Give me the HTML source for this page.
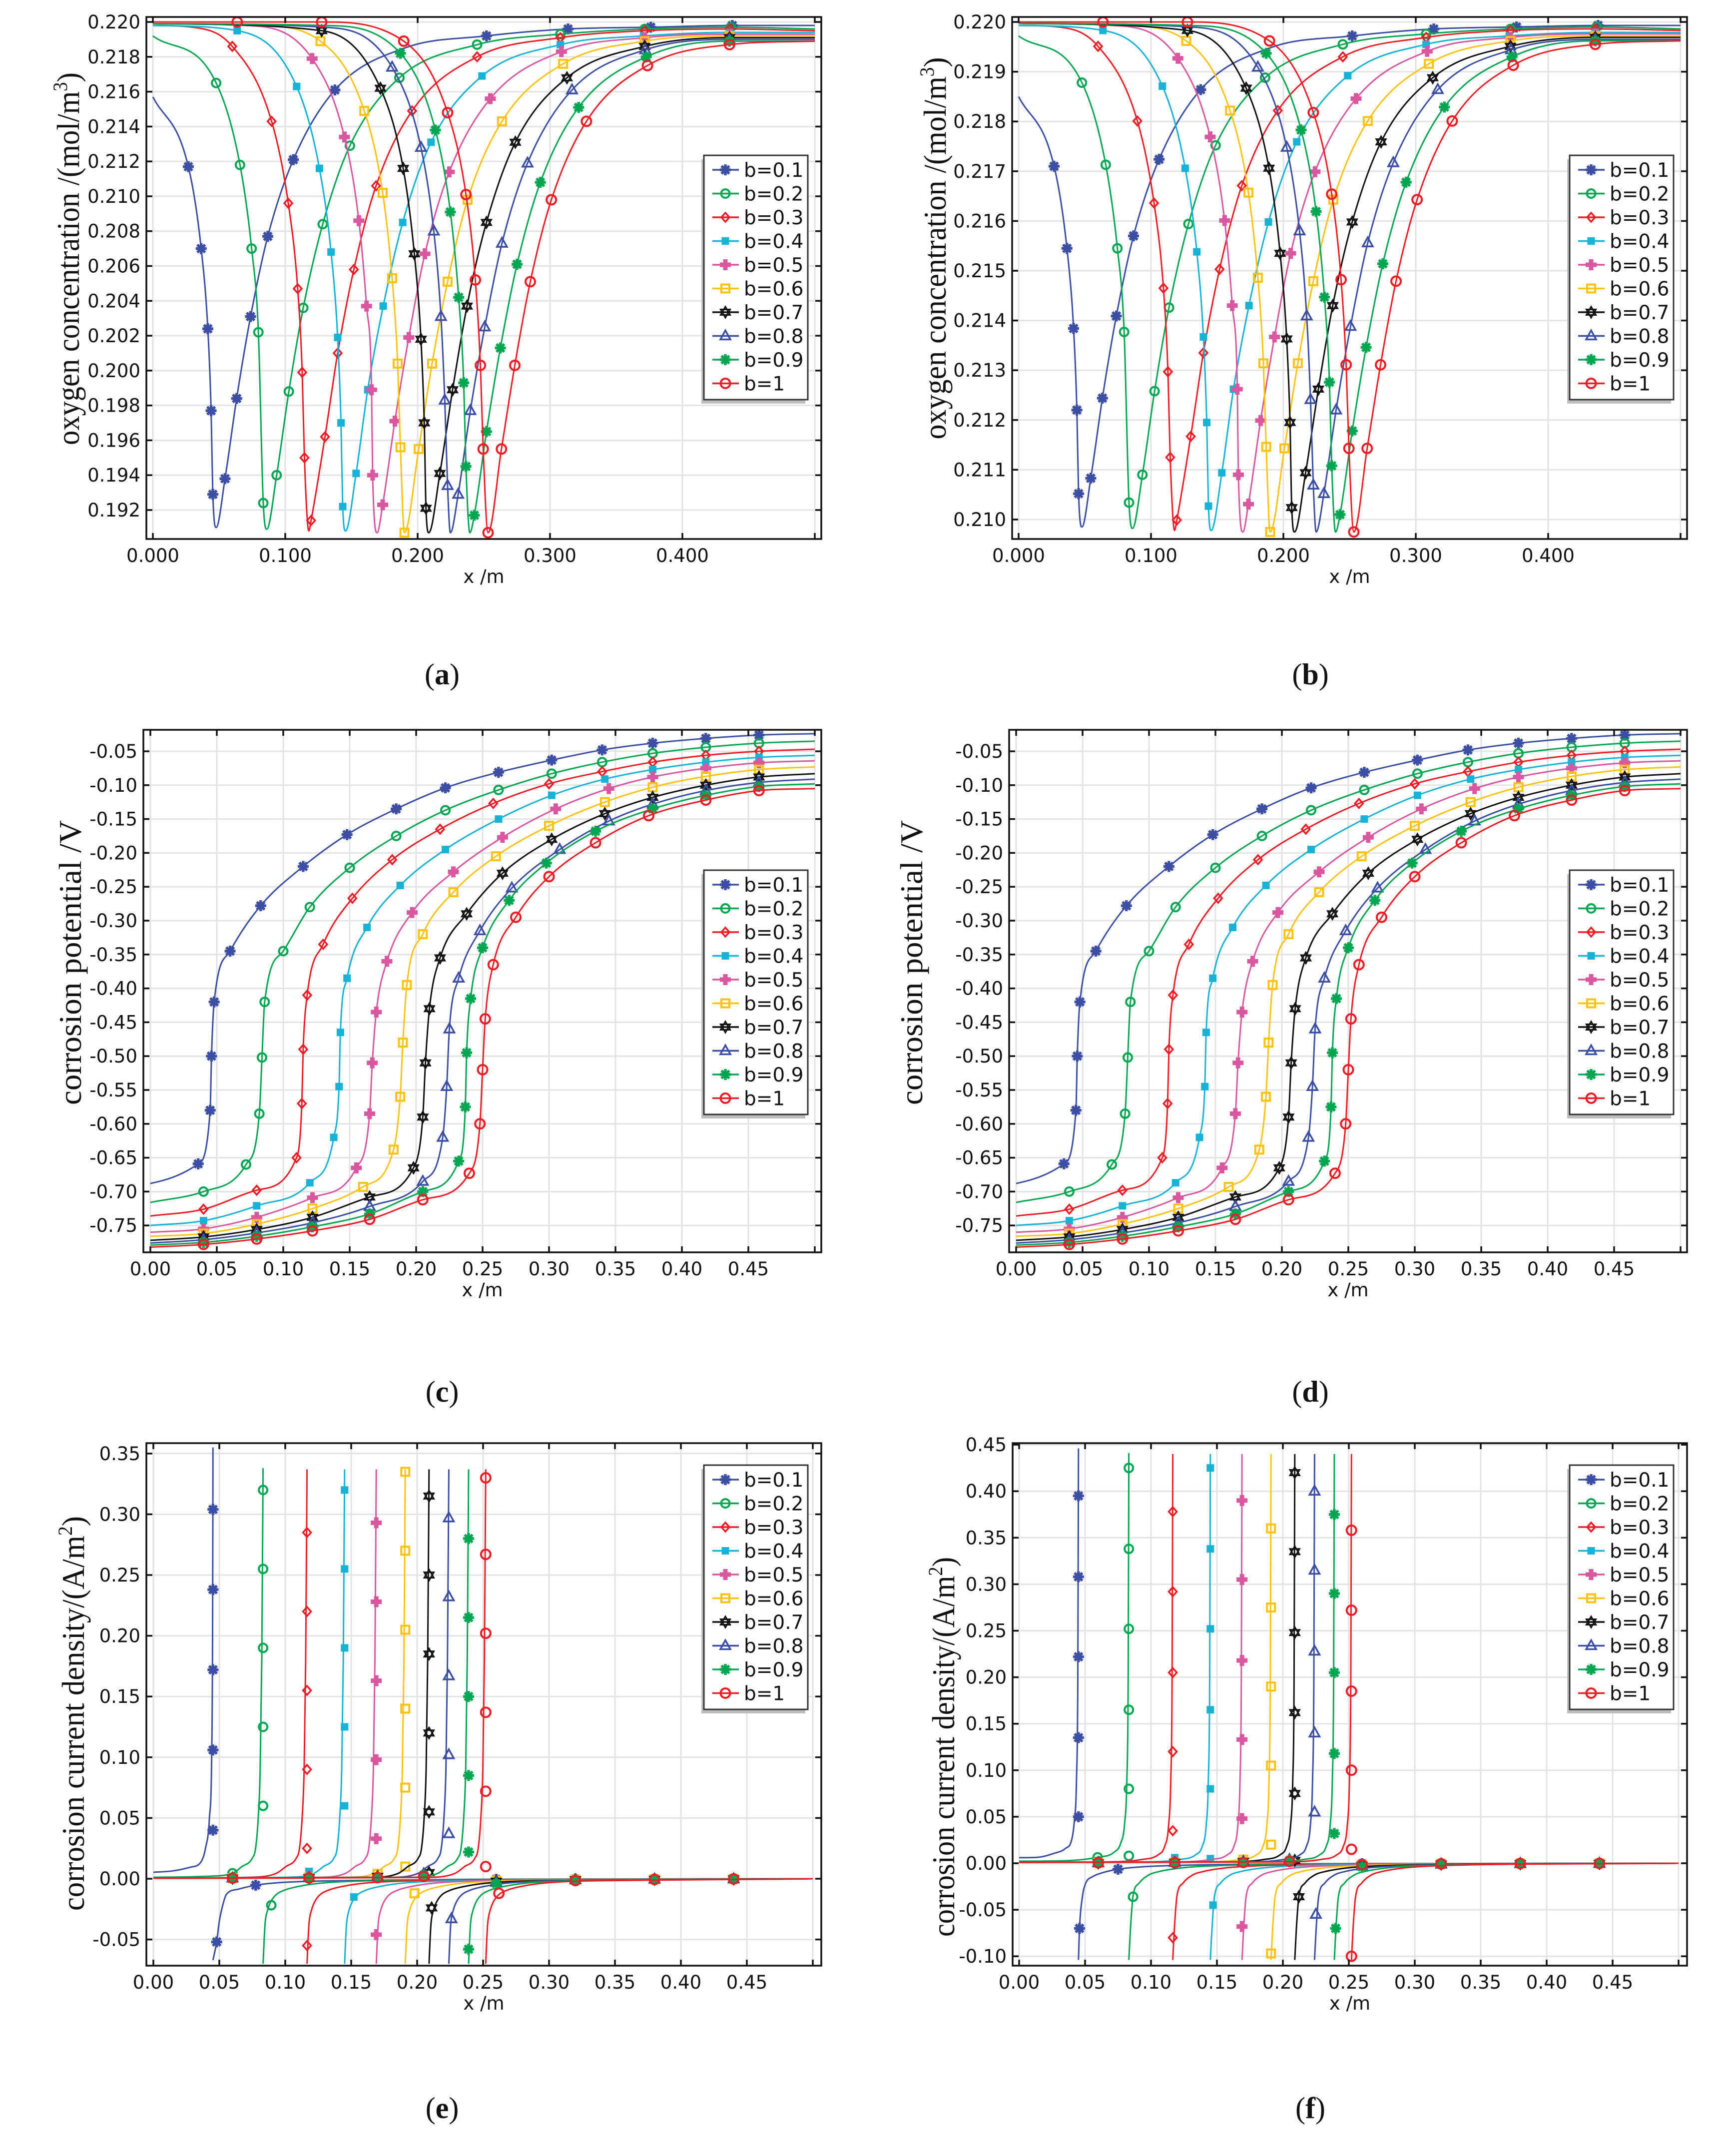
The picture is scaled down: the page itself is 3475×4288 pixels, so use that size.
<!DOCTYPE html>
<html><head><meta charset="utf-8"><title>Oxygen concentration, corrosion potential and current density figure</title>
<style>html,body{margin:0;padding:0;background:#fff}svg{display:block}</style></head>
<body>
<svg id="fig" width="3475" height="4288" viewBox="0 0 3475 4288" xmlns="http://www.w3.org/2000/svg">
<rect x="0" y="0" width="3475" height="4288" fill="#fff"/>
</svg>
<script>
// ---------- series meta ----------
const seriesLabels = ['b=0.1','b=0.2','b=0.3','b=0.4','b=0.5','b=0.6','b=0.7','b=0.8','b=0.9','b=1'];
const seriesColors = ['#3b4ea3','#00a651','#ee1c25','#16b3d6','#d9579e','#ffc20e','#111111','#3b4ea3','#00a651','#ee1c25'];
const markerTypes = ['ast','circ','diam','sqf','plus','sqo','star6','tri','ast','circ2'];

// ---------- panel (a)/(b): oxygen concentration ----------
const oxX = [
 [0,.0268,.0365,.0415,.0440,.0453,.0478,.0545,.0633,.0738,.0868,.1061,.1375,.19,.252,.3136,.3761,.4377,.5],
 [0,.0478,.0658,.0746,.0797,.0834,.0860,.0935,.1027,.1136,.1283,.1488,.1862,.2449,.3078,.3715,.4365,.5],
 [0,.03,.06,.0897,.1023,.1094,.1128,.1145,.1178,.1195,.13,.1396,.1518,.1686,.1958,.2449,.3078,.3715,.4356,.5],
 [0,.0637,.1086,.1258,.1346,.1396,.1421,.1434,.1455,.1535,.1623,.174,.1887,.2101,.2486,.3078,.3706,.4356,.5],
 [0,.07,.1203,.1447,.1556,.1614,.1652,.166,.1694,.1736,.1828,.1933,.2055,.2239,.2549,.3086,.3715,.4356,.5],
 [0,.08,.1266,.1597,.1736,.1807,.1849,.187,.19,.2008,.2109,.2226,.2377,.2637,.3099,.3715,.4356,.5],
 [0,.1275,.1719,.1891,.1975,.2025,.205,.2063,.2084,.2168,.2264,.2373,.252,.2738,.3128,.3715,.4356,.5],
 [0,.13,.1807,.2025,.2122,.2176,.2205,.2226,.2247,.2306,.2398,.2507,.2637,.283,.3166,.3719,.4356,.5],
 [0,.13,.187,.2134,.2247,.231,.2348,.2365,.2394,.2428,.252,.2625,.2751,.2927,.3216,.3727,.4356,.5],
 [0,.0637,.1275,.1895,.2226,.2365,.2436,.2474,.2495,.2532,.2633,.2734,.2851,.301,.3275,.3736,.4356,.5]
];
const oxA_Y = [
 [.2157,.2117,.2070,.2024,.1977,.1929,.1910,.1938,.1984,.2031,.2077,.2121,.2161,.2185,.2192,.2196,.2197,.2198,.2198],
 [.2192,.2165,.2118,.2070,.2022,.1924,.1909,.1940,.1988,.2036,.2084,.2129,.2168,.2187,.2193,.2196,.2197,.2196],
 [.2198,.2197,.2186,.2143,.2096,.2047,.1999,.1950,.1908,.1914,.1962,.2010,.2058,.2106,.2149,.2180,.2191,.2195,.2196,.2195],
 [.2198,.2195,.2163,.2116,.2068,.2019,.1970,.1922,.1908,.1941,.1989,.2037,.2085,.2131,.2169,.2187,.2192,.2194,.2194],
 [.2199,.2198,.2179,.2134,.2086,.2037,.1989,.1940,.1907,.1923,.1971,.2019,.2067,.2114,.2156,.2183,.2191,.2193,.2193],
 [.2199,.2198,.2189,.2149,.2102,.2053,.2004,.1956,.1907,.1955,.2004,.2051,.2098,.2143,.2176,.2189,.2192,.2192],
 [.2199,.2195,.2162,.2116,.2067,.2018,.1970,.1921,.1907,.1941,.1989,.2037,.2085,.2131,.2168,.2186,.2191,.2191],
 [.2199,.2197,.2174,.2128,.2080,.2031,.1983,.1934,.1907,.1929,.1977,.2025,.2073,.2119,.2161,.2184,.2190,.2190],
 [.2199,.2198,.2182,.2138,.2091,.2042,.1993,.1945,.1907,.1917,.1965,.2013,.2061,.2108,.2151,.2180,.2189,.2189],
 [.2200,.2200,.2200,.2189,.2148,.2101,.2052,.2003,.1955,.1907,.1955,.2003,.2051,.2098,.2143,.2175,.2187,.2189]
];
const oxB_Y = [
 [.21850,.21710,.21545,.21384,.21220,.21052,.20985,.21083,.21244,.21409,.21570,.21724,.21864,.21948,.21972,.21986,.21990,.21993,.21993],
 [.21972,.21878,.21713,.21545,.21377,.21034,.20982,.21090,.21258,.21426,.21594,.21752,.21888,.21955,.21976,.21986,.21990,.21986],
 [.21993,.21990,.21951,.21801,.21636,.21465,.21297,.21125,.20978,.20999,.21167,.21335,.21503,.21671,.21822,.21930,.21969,.21983,.21986,.21983],
 [.21993,.21983,.21871,.21706,.21538,.21367,.21195,.21027,.20978,.21094,.21262,.21430,.21598,.21759,.21892,.21955,.21972,.21979,.21979],
 [.21997,.21993,.21927,.21769,.21601,.21430,.21262,.21090,.20975,.21031,.21199,.21367,.21535,.21699,.21846,.21941,.21969,.21976,.21976],
 [.21997,.21993,.21962,.21822,.21657,.21486,.21314,.21146,.20975,.21143,.21314,.21479,.21643,.21801,.21916,.21962,.21972,.21972],
 [.21997,.21983,.21867,.21706,.21535,.21363,.21195,.21024,.20975,.21094,.21262,.21430,.21598,.21759,.21888,.21951,.21969,.21969],
 [.21997,.21990,.21909,.21748,.21580,.21409,.21241,.21069,.20975,.21052,.21220,.21388,.21556,.21717,.21864,.21944,.21965,.21965],
 [.21997,.21993,.21937,.21783,.21619,.21447,.21276,.21108,.20975,.21010,.21178,.21346,.21514,.21678,.21829,.21930,.21962,.21962],
 [.2200,.2200,.2200,.21962,.21818,.21654,.21482,.21311,.21143,.20975,.21143,.21311,.21479,.21643,.21801,.21913,.21955,.21962]
];
const oxMk = [
 [1,2,3,4,5,7,8,9,10,11,12,14,15,16,17],
 [1,2,3,4,5,7,8,9,10,11,12,13,14,15,16],
 [2,3,4,5,6,7,9,10,11,12,13,14,15,16,17,18],
 [1,2,3,4,5,6,7,9,10,11,12,13,14,15,16,17],
 [2,3,4,5,6,7,9,10,11,12,13,14,15,16,17],
 [2,3,4,5,6,7,8,9,10,11,12,13,14,15,16],
 [1,2,3,4,5,6,7,9,10,11,12,13,14,15,16],
 [2,3,4,5,6,7,9,10,11,12,13,14,15,16],
 [2,3,4,5,6,7,9,10,11,12,13,14,15,16],
 [1,2,3,4,5,6,7,8,9,10,11,12,13,14,15,16]
];
const oxXticks = [0,0.1,0.2,0.3,0.4,0.5];
const oxA_Yticks = [0.192,0.194,0.196,0.198,0.200,0.202,0.204,0.206,0.208,0.210,0.212,0.214,0.216,0.218,0.220];
const oxB_Yticks = [0.210,0.211,0.212,0.213,0.214,0.215,0.216,0.217,0.218,0.219,0.220];

// ---------- panel (c)/(d): corrosion potential ----------
const potX = [
 [0,.036,.045,.046,.048,.060,.083,.115,.148,.185,.222,.262,.302,.340,.378,.418,.458,.5],
 [0,.04,.072,.082,.084,.086,.100,.120,.150,.185,.222,.262,.302,.340,.378,.418,.458,.5],
 [0,.04,.08,.110,.114,.115,.118,.130,.152,.182,.218,.258,.300,.340,.378,.418,.458,.5],
 [0,.04,.08,.12,.138,.142,.143,.148,.163,.188,.222,.262,.302,.342,.378,.418,.458,.5],
 [0,.04,.08,.122,.155,.165,.167,.170,.178,.197,.228,.265,.305,.345,.378,.418,.458,.5],
 [0,.04,.08,.122,.160,.183,.188,.190,.193,.205,.228,.260,.300,.342,.378,.418,.458,.5],
 [0,.04,.08,.122,.165,.198,.205,.207,.210,.218,.238,.265,.302,.342,.378,.418,.458,.5],
 [0,.04,.08,.122,.165,.205,.220,.223,.225,.232,.248,.272,.308,.345,.378,.418,.458,.5],
 [0,.04,.08,.122,.165,.205,.232,.237,.238,.241,.250,.270,.298,.335,.378,.418,.458,.5],
 [0,.04,.08,.122,.165,.205,.240,.248,.250,.252,.258,.275,.300,.335,.375,.418,.458,.5]
];
const potC_Y = [
 [-.688,-.659,-.58,-.50,-.42,-.345,-.278,-.22,-.173,-.135,-.104,-.081,-.063,-.048,-.038,-.031,-.026,-.024],
 [-.716,-.70,-.66,-.585,-.502,-.42,-.345,-.28,-.222,-.175,-.137,-.107,-.083,-.066,-.053,-.044,-.038,-.035],
 [-.736,-.726,-.698,-.65,-.57,-.49,-.41,-.335,-.267,-.21,-.165,-.127,-.098,-.080,-.066,-.056,-.050,-.047],
 [-.750,-.743,-.721,-.687,-.62,-.545,-.465,-.385,-.31,-.248,-.195,-.150,-.115,-.091,-.077,-.066,-.059,-.056],
 [-.760,-.755,-.738,-.709,-.665,-.585,-.51,-.435,-.36,-.288,-.228,-.177,-.135,-.105,-.088,-.075,-.067,-.064],
 [-.766,-.762,-.748,-.725,-.693,-.638,-.56,-.48,-.395,-.32,-.258,-.205,-.16,-.125,-.103,-.087,-.077,-.073],
 [-.772,-.767,-.756,-.738,-.708,-.665,-.59,-.51,-.43,-.355,-.29,-.23,-.18,-.142,-.118,-.100,-.088,-.083],
 [-.776,-.771,-.761,-.746,-.722,-.685,-.62,-.545,-.46,-.385,-.315,-.252,-.195,-.153,-.128,-.108,-.096,-.091],
 [-.779,-.775,-.766,-.752,-.733,-.70,-.655,-.575,-.495,-.415,-.34,-.27,-.215,-.168,-.135,-.115,-.102,-.098],
 [-.782,-.778,-.770,-.758,-.741,-.712,-.673,-.60,-.52,-.445,-.365,-.295,-.235,-.185,-.145,-.122,-.108,-.105]
];
const potD_Y = [
 [-.688,-.659,-.58,-.50,-.42,-.345,-.278,-.22,-.173,-.135,-.104,-.081,-.063,-.048,-.038,-.031,-.026,-.024],
 [-.716,-.70,-.66,-.585,-.502,-.42,-.345,-.28,-.222,-.175,-.137,-.107,-.083,-.066,-.053,-.044,-.038,-.035],
 [-.736,-.726,-.698,-.65,-.57,-.49,-.41,-.335,-.267,-.21,-.165,-.127,-.098,-.080,-.066,-.056,-.050,-.047],
 [-.750,-.743,-.721,-.687,-.62,-.545,-.465,-.385,-.31,-.248,-.195,-.150,-.115,-.091,-.077,-.066,-.059,-.056],
 [-.760,-.755,-.738,-.709,-.665,-.585,-.51,-.435,-.36,-.288,-.228,-.177,-.135,-.105,-.088,-.075,-.067,-.064],
 [-.766,-.762,-.748,-.725,-.693,-.638,-.56,-.48,-.395,-.32,-.258,-.205,-.16,-.125,-.103,-.087,-.077,-.073],
 [-.772,-.767,-.756,-.738,-.708,-.665,-.59,-.51,-.43,-.355,-.29,-.23,-.18,-.142,-.118,-.100,-.088,-.083],
 [-.776,-.771,-.761,-.746,-.722,-.685,-.62,-.545,-.46,-.385,-.315,-.252,-.195,-.153,-.128,-.108,-.096,-.091],
 [-.779,-.775,-.766,-.752,-.733,-.70,-.655,-.575,-.495,-.415,-.34,-.27,-.215,-.168,-.135,-.115,-.102,-.098],
 [-.782,-.778,-.770,-.758,-.741,-.712,-.673,-.60,-.52,-.445,-.365,-.295,-.235,-.185,-.145,-.122,-.108,-.105]
];
const potXticks = [0,0.05,0.10,0.15,0.20,0.25,0.30,0.35,0.40,0.45,0.50];
const potYticks = [-0.75,-0.70,-0.65,-0.60,-0.55,-0.50,-0.45,-0.40,-0.35,-0.30,-0.25,-0.20,-0.15,-0.10,-0.05];

// ---------- panel (e): corrosion current density ----------
const curE_Xu = [
 [0,.015,.028,.036,.0395,.0425,.0442,.0449,.0452],
 [0,.04,.06,.067,.075,.0775,.0795,.081,.0822,.0832],
 [0,.0733,.0933,.1003,.1083,.1108,.1128,.1143,.1155,.1165],
 [0,.1018,.1218,.1288,.1368,.1393,.1413,.1428,.144,.145],
 [0,.1258,.1458,.1528,.1608,.1633,.1653,.1668,.168,.169],
 [0,.1478,.1678,.1748,.1828,.1853,.1873,.1888,.19,.191],
 [0,.1658,.1858,.1928,.2008,.2033,.2053,.2068,.208,.209],
 [0,.1808,.2008,.2078,.2158,.2183,.2203,.2218,.223,.224],
 [0,.1958,.2158,.2228,.2308,.2333,.2353,.2368,.238,.239],
 [0,.2088,.2288,.2358,.2438,.2463,.2483,.2498,.251,.252]
];
const curE_Yu = [
 [.0053,.0065,.0095,.0136,.025,.05,.10,.20,.355],
 [.0012,.002,.0045,.0099,.0169,.025,.05,.09,.18,.338],
 [.0005,.0012,.0045,.0099,.0169,.025,.05,.09,.18,.337],
 [.0005,.0012,.0045,.0099,.0169,.025,.05,.09,.18,.337],
 [.0005,.0012,.0045,.0099,.0169,.025,.05,.09,.18,.337],
 [.0005,.0012,.0045,.0099,.0169,.025,.05,.09,.18,.337],
 [.0005,.0012,.0045,.0099,.0169,.025,.05,.09,.18,.337],
 [.0005,.0012,.0045,.0099,.0169,.025,.05,.09,.18,.337],
 [.0005,.0012,.0045,.0099,.0169,.025,.05,.09,.18,.337],
 [.0005,.0012,.0045,.0099,.0169,.025,.05,.09,.18,.337]
];
const curE_Xl = [
 [.0452,.048,.050,.0527,.0553,.0644,.0776,.098,.15,.25,.5],
 [.0832,.084,.0847,.0867,.089,.0927,.0992,.1107,.1302,.2032,.3032,.5],
 [.1165,.1173,.118,.12,.1223,.126,.1325,.144,.1635,.2365,.3365,.5],
 [.145,.1458,.1465,.1485,.1508,.1545,.161,.1725,.192,.265,.365,.5],
 [.169,.1698,.1705,.1725,.1748,.1785,.185,.1965,.216,.289,.389,.5],
 [.191,.1918,.1925,.1945,.1968,.2005,.207,.2185,.238,.311,.411,.5],
 [.209,.2098,.2105,.2125,.2148,.2185,.225,.2365,.256,.329,.429,.5],
 [.224,.2248,.2255,.2275,.2298,.2335,.240,.2515,.271,.344,.444,.5],
 [.239,.2398,.2405,.2425,.2448,.2485,.255,.2665,.286,.359,.459,.5],
 [.252,.2528,.2535,.2555,.2578,.2615,.268,.2795,.299,.372,.472,.5]
];
const curE_Yl = [
 [-.067,-.052,-.035,-.0214,-.013,-.0086,-.0053,-.003,-.0015,-.0005,0],
 [-.070,-.050,-.037,-.0255,-.019,-.0135,-.0095,-.0062,-.0033,-.0012,-.0004,0],
 [-.070,-.050,-.037,-.0255,-.019,-.0135,-.0095,-.0062,-.0033,-.0012,-.0004,0],
 [-.070,-.050,-.037,-.0255,-.019,-.0135,-.0095,-.0062,-.0033,-.0012,-.0004,0],
 [-.070,-.050,-.037,-.0255,-.019,-.0135,-.0095,-.0062,-.0033,-.0012,-.0004,0],
 [-.070,-.050,-.037,-.0255,-.019,-.0135,-.0095,-.0062,-.0033,-.0012,-.0004,0],
 [-.070,-.050,-.037,-.0255,-.019,-.0135,-.0095,-.0062,-.0033,-.0012,-.0004,0],
 [-.070,-.050,-.037,-.0255,-.019,-.0135,-.0095,-.0062,-.0033,-.0012,-.0004,0],
 [-.070,-.050,-.037,-.0255,-.019,-.0135,-.0095,-.0062,-.0033,-.0012,-.0004,0],
 [-.070,-.050,-.037,-.0255,-.019,-.0135,-.0095,-.0062,-.0033,-.0012,-.0004,0]
];
const curE_MkX = [
 [.0452,.0452,.0452,.0452,.0452,.048,.0776,.26,.32,.38,.44],
 [.06,.0832,.0832,.0832,.0832,.0832,.0894,.26,.32,.38,.44],
 [.06,.1165,.1165,.1165,.1165,.1165,.1165,.26,.32,.38,.44],
 [.06,.118,.145,.145,.145,.145,.145,.152,.26,.32,.38,.44],
 [.06,.118,.169,.169,.169,.169,.169,.169,.26,.32,.38,.44],
 [.06,.118,.17,.191,.191,.191,.191,.191,.191,.198,.26,.32,.38,.44],
 [.06,.118,.17,.209,.209,.209,.209,.209,.209,.211,.26,.32,.38,.44],
 [.06,.118,.17,.205,.224,.224,.224,.224,.224,.226,.26,.32,.38,.44],
 [.06,.118,.17,.205,.239,.239,.239,.239,.239,.239,.26,.32,.38,.44],
 [.06,.118,.17,.205,.252,.252,.252,.252,.252,.252,.262,.32,.38,.44]
];
const curE_MkY = [
 [.304,.238,.172,.106,.040,-.052,-.0053,-.0005,-.0003,-.0002,-.0001],
 [.0045,.32,.255,.19,.125,.06,-.0218,-.0008,-.0004,-.0002,-.0001],
 [.001,.285,.22,.155,.09,.025,-.055,-.001,-.0005,-.0003,-.0001],
 [.001,.006,.32,.255,.19,.125,.06,-.015,-.001,-.0005,-.0003,-.0001],
 [.0005,.002,.293,.228,.163,.098,.033,-.046,-.0012,-.0006,-.0003,-.0001],
 [.0005,.001,.004,.335,.27,.205,.14,.075,.01,-.012,-.0015,-.0007,-.0003,-.0001],
 [.0005,.001,.002,.315,.25,.185,.12,.055,.005,-.024,-.002,-.0008,-.0004,-.0001],
 [.0005,.0008,.0015,.004,.297,.232,.167,.102,.037,-.033,-.003,-.001,-.0004,-.0002],
 [.0005,.0007,.001,.003,.28,.215,.15,.085,.022,-.058,-.004,-.0012,-.0005,-.0002],
 [.0005,.0006,.0009,.002,.33,.267,.202,.137,.072,.01,-.012,-.0015,-.0006,-.0002]
];
const curE_Yticks = [-0.05,0.00,0.05,0.10,0.15,0.20,0.25,0.30,0.35];

// ---------- panel (f): corrosion current density ----------
const curF_Xu = [
 [0,.014,.0265,.0352,.0398,.0417,.0435,.0445,.045],
 [0,.034,.0595,.072,.077,.080,.0817,.0827,.0832],
 [0,.0673,.0928,.1053,.1103,.1133,.115,.116,.1165],
 [0,.0958,.1213,.1338,.1388,.1418,.1435,.1445,.145],
 [0,.1198,.1453,.1578,.1628,.1658,.1675,.1685,.169],
 [0,.1418,.1673,.1798,.1848,.1878,.1895,.1905,.191],
 [0,.1598,.1853,.1978,.2028,.2058,.2075,.2085,.209],
 [0,.1748,.2003,.2128,.2178,.2208,.2225,.2235,.224],
 [0,.1898,.2153,.2278,.2328,.2358,.2375,.2385,.239],
 [0,.2028,.2283,.2408,.2458,.2488,.2505,.2515,.252]
];
const curF_Yu = [
 [.006,.0064,.0107,.016,.025,.043,.09,.2,.446],
 [.0022,.0027,.0064,.0118,.0215,.043,.09,.2,.441],
 [.001,.0015,.004,.009,.018,.04,.09,.2,.44],
 [.001,.0015,.004,.009,.018,.04,.09,.2,.44],
 [.001,.0015,.004,.009,.018,.04,.09,.2,.44],
 [.001,.0015,.004,.009,.018,.04,.09,.2,.44],
 [.001,.0015,.004,.009,.018,.04,.09,.2,.44],
 [.001,.0015,.004,.009,.018,.04,.09,.2,.44],
 [.001,.0015,.004,.009,.018,.04,.09,.2,.44],
 [.001,.0015,.004,.009,.018,.04,.09,.2,.44]
];
const curF_Xl = [
 [.045,.0458,.048,.0505,.0556,.062,.075,.0935,.15,.25,.5],
 [.0832,.0844,.0863,.0909,.0984,.1059,.1232,.1432,.2032,.3032,.5],
 [.1165,.1177,.1196,.1242,.1317,.1392,.1565,.1765,.2365,.3365,.5],
 [.145,.1462,.1481,.1527,.1602,.1677,.185,.205,.265,.365,.5],
 [.169,.1702,.1721,.1767,.1842,.1917,.209,.229,.289,.389,.5],
 [.191,.1922,.1941,.1987,.2062,.2137,.231,.251,.311,.411,.5],
 [.209,.2102,.2121,.2167,.2242,.2317,.249,.269,.329,.429,.5],
 [.224,.2252,.2271,.2317,.2392,.2467,.264,.284,.344,.444,.5],
 [.239,.2402,.2421,.2467,.2542,.2617,.279,.299,.359,.459,.5],
 [.252,.2532,.2551,.2597,.2672,.2747,.292,.312,.372,.472,.5]
];
const curF_Yl = [
 [-.104,-.07,-.036,-.0215,-.0145,-.0107,-.0064,-.0038,-.0015,-.0005,0],
 [-.104,-.071,-.036,-.0215,-.0125,-.009,-.005,-.003,-.001,-.0003,0],
 [-.104,-.071,-.036,-.0215,-.0125,-.009,-.005,-.003,-.001,-.0003,0],
 [-.104,-.071,-.036,-.0215,-.0125,-.009,-.005,-.003,-.001,-.0003,0],
 [-.104,-.071,-.036,-.0215,-.0125,-.009,-.005,-.003,-.001,-.0003,0],
 [-.104,-.071,-.036,-.0215,-.0125,-.009,-.005,-.003,-.001,-.0003,0],
 [-.104,-.071,-.036,-.0215,-.0125,-.009,-.005,-.003,-.001,-.0003,0],
 [-.104,-.071,-.036,-.0215,-.0125,-.009,-.005,-.003,-.001,-.0003,0],
 [-.104,-.071,-.036,-.0215,-.0125,-.009,-.005,-.003,-.001,-.0003,0],
 [-.104,-.071,-.036,-.0215,-.0125,-.009,-.005,-.003,-.001,-.0003,0]
];
const curF_MkX = [
 [.045,.045,.045,.045,.045,.0458,.075,.26,.32,.38,.44],
 [.0595,.0832,.0832,.0832,.0832,.0832,.0832,.0864,.26,.32,.38,.44],
 [.06,.1165,.1165,.1165,.1165,.1165,.1165,.26,.32,.38,.44],
 [.06,.118,.145,.145,.145,.145,.145,.145,.147,.26,.32,.38,.44],
 [.06,.118,.169,.169,.169,.169,.169,.169,.26,.32,.38,.44],
 [.06,.118,.17,.191,.191,.191,.191,.191,.191,.26,.32,.38,.44],
 [.06,.118,.17,.209,.209,.209,.209,.209,.209,.2121,.26,.32,.38,.44],
 [.06,.118,.17,.205,.224,.224,.224,.224,.224,.225,.26,.32,.38,.44],
 [.06,.118,.17,.205,.239,.239,.239,.239,.239,.24,.26,.32,.38,.44],
 [.06,.118,.17,.205,.252,.252,.252,.252,.252,.252,.26,.32,.38,.44]
];
const curF_MkY = [
 [.395,.308,.222,.135,.05,-.07,-.0064,-.0005,-.0003,-.0002,-.0001],
 [.0064,.425,.338,.252,.165,.08,.008,-.036,-.0008,-.0004,-.0002,-.0001],
 [.002,.378,.292,.205,.12,.035,-.08,-.001,-.0005,-.0003,-.0001],
 [.001,.006,.425,.338,.252,.165,.08,.005,-.045,-.001,-.0005,-.0003,-.0001],
 [.0005,.002,.39,.305,.218,.133,.048,-.068,-.0012,-.0006,-.0003,-.0001],
 [.0005,.001,.004,.36,.275,.19,.105,.02,-.097,-.0015,-.0007,-.0003,-.0001],
 [.0005,.001,.002,.42,.335,.248,.162,.075,.003,-.036,-.002,-.0008,-.0004,-.0001],
 [.0005,.0008,.0015,.004,.40,.315,.228,.14,.055,-.055,-.003,-.001,-.0004,-.0002],
 [.0005,.0007,.001,.003,.375,.29,.205,.118,.032,-.07,-.004,-.0012,-.0005,-.0002],
 [.0005,.0006,.0009,.002,.358,.272,.185,.10,.015,-.10,-.0015,-.0006,-.0003,-.0002]
];
const curF_Yticks = [-0.10,-0.05,0.00,0.05,0.10,0.15,0.20,0.25,0.30,0.35,0.40,0.45];

// ---------- rendering ----------
const NS = 'http://www.w3.org/2000/svg';
const svg = document.getElementById('fig');
function mk(tag, attrs, parent) {
  const e = document.createElementNS(NS, tag);
  for (const k in attrs) e.setAttribute(k, attrs[k]);
  (parent || svg).appendChild(e);
  return e;
}
function monoPath(px, py) {
  const n = px.length; if (n < 2) return '';
  const d = [], m = new Array(n);
  for (let i = 0; i < n - 1; i++) d[i] = (py[i+1] - py[i]) / (px[i+1] - px[i]);
  m[0] = d[0]; m[n-1] = d[n-2];
  for (let i = 1; i < n - 1; i++) m[i] = (d[i-1] * d[i] <= 0) ? 0 : (d[i-1] + d[i]) / 2;
  for (let i = 0; i < n - 1; i++) {
    if (d[i] === 0) { m[i] = 0; m[i+1] = 0; continue; }
    const a = m[i] / d[i], b = m[i+1] / d[i], s = a*a + b*b;
    if (s > 9) { const t = 3 / Math.sqrt(s); m[i] = t*a*d[i]; m[i+1] = t*b*d[i]; }
  }
  let s = 'M' + px[0].toFixed(1) + ',' + py[0].toFixed(1);
  for (let i = 0; i < n - 1; i++) {
    const h = px[i+1] - px[i];
    s += ' C' + (px[i]+h/3).toFixed(1) + ',' + (py[i]+m[i]*h/3).toFixed(1) + ' ' +
         (px[i+1]-h/3).toFixed(1) + ',' + (py[i+1]-m[i+1]*h/3).toFixed(1) + ' ' +
         px[i+1].toFixed(1) + ',' + py[i+1].toFixed(1);
  }
  return s;
}
function drawMarker(g, type, color, x, y) {
  const grp = mk('g', {}, g);
  if (type === 'ast') {
    for (let a = 0; a < 4; a++) {
      const ang = a * Math.PI / 4, dx = 11 * Math.cos(ang), dy = 11 * Math.sin(ang);
      mk('line', {x1: x-dx, y1: y-dy, x2: x+dx, y2: y+dy, stroke: color, 'stroke-width': 5.5}, grp);
    }
    mk('circle', {cx: x, cy: y, r: 6, fill: color}, grp);
  } else if (type === 'circ' || type === 'circ2') {
    mk('circle', {cx: x, cy: y, r: type === 'circ2' ? 9.5 : 8.5, fill: 'none', stroke: color, 'stroke-width': 4}, grp);
  } else if (type === 'diam') {
    mk('polygon', {points: `${x},${y-9} ${x+8},${y} ${x},${y+9} ${x-8},${y}`, fill: 'none', stroke: color, 'stroke-width': 3.5}, grp);
  } else if (type === 'sqf') {
    mk('rect', {x: x-7.5, y: y-7.5, width: 15, height: 15, fill: color}, grp);
  } else if (type === 'plus') {
    mk('rect', {x: x-11, y: y-4.5, width: 22, height: 9, fill: color}, grp);
    mk('rect', {x: x-4.5, y: y-11, width: 9, height: 22, fill: color}, grp);
  } else if (type === 'sqo') {
    mk('rect', {x: x-8, y: y-8, width: 16, height: 16, fill: 'none', stroke: color, 'stroke-width': 4}, grp);
  } else if (type === 'star6') {
    const r = 11, p1 = [], p2 = [];
    for (let k = 0; k < 3; k++) {
      const a1 = -Math.PI/2 + k*2*Math.PI/3, a2 = Math.PI/2 + k*2*Math.PI/3;
      p1.push((x + r*Math.cos(a1)).toFixed(1) + ',' + (y + r*Math.sin(a1)).toFixed(1));
      p2.push((x + r*Math.cos(a2)).toFixed(1) + ',' + (y + r*Math.sin(a2)).toFixed(1));
    }
    mk('polygon', {points: p1.join(' '), fill: 'none', stroke: color, 'stroke-width': 3}, grp);
    mk('polygon', {points: p2.join(' '), fill: 'none', stroke: color, 'stroke-width': 3}, grp);
  } else if (type === 'tri') {
    mk('polygon', {points: `${x},${y-11} ${x+10},${y+7} ${x-10},${y+7}`, fill: 'none', stroke: color, 'stroke-width': 3.5}, grp);
  }
  return grp;
}

const FONT = '"DejaVu Sans","Liberation Sans",sans-serif';
const SERIF = '"Liberation Serif","DejaVu Serif",serif';

function makePanel(cfg) {
  const g = mk('g', {});
  
  
  const fx = v => cfg.x0 + v * cfg.kx;
  const fy = v => cfg.p0 + (cfg.v0 - v) * cfg.ky;
  const clipId = 'clip-' + cfg.id;
  const cp = mk('clipPath', {id: clipId}, g);
  mk('rect', {x: cfg.L, y: cfg.T, width: cfg.R - cfg.L, height: cfg.B - cfg.T}, cp);

  // grid
  const grid = mk('g', {stroke: '#e3e3e3', 'stroke-width': 3}, g);
  
  
  cfg.xticks.forEach(v => mk('line', {x1: fx(v), y1: cfg.T, x2: fx(v), y2: cfg.B}, grid));
  cfg.yticks.forEach(v => mk('line', {x1: cfg.L, y1: fy(v), x2: cfg.R, y2: fy(v)}, grid));

  // series
  const plot = mk('g', {'clip-path': `url(#${clipId})`}, g);
  cfg.series.forEach((s, i) => {
    const sg = mk('g', {}, plot);
    
    
    s.lines.forEach(([xs, ys]) => {
      const p = mk('path', {d: monoPath(xs.map(fx), ys.map(fy)), fill: 'none', stroke: seriesColors[i], 'stroke-width': 3, 'stroke-linejoin': 'round'}, sg);
      
      
    });
    s.mx.forEach((xv, k) => {
      const m = drawMarker(sg, markerTypes[i], seriesColors[i], fx(xv), fy(s.my[k]));
      
      
    });
  });

  // frame
  const fr = mk('rect', {x: cfg.L, y: cfg.T, width: cfg.R - cfg.L, height: cfg.B - cfg.T, fill: 'none', stroke: '#111', 'stroke-width': 3.5}, g);
  
  

  // ticks + labels
  const tk = mk('g', {stroke: '#111', 'stroke-width': 3.5}, g);
  
  
  const xl = mk('g', {'font-family': FONT, 'font-size': 37, fill: '#111', 'text-anchor': 'middle'}, g);
  
  
  cfg.xticks.forEach(v => {
    const X = fx(v);
    mk('line', {x1: X, y1: cfg.B, x2: X, y2: cfg.B - 12}, tk);
    mk('line', {x1: X, y1: cfg.T, x2: X, y2: cfg.T + 12}, tk);
    if (v < 0.49) {
      const t = mk('text', {x: X, y: cfg.B + 46}, xl);
      t.textContent = v.toFixed(cfg.xdec);
    }
  });
  const yl = mk('g', {'font-family': FONT, 'font-size': 37, fill: '#111', 'text-anchor': 'end'}, g);
  
  
  cfg.yticks.forEach(v => {
    const Y = fy(v);
    mk('line', {x1: cfg.L, y1: Y, x2: cfg.L + 12, y2: Y}, tk);
    mk('line', {x1: cfg.R, y1: Y, x2: cfg.R - 12, y2: Y}, tk);
    const t = mk('text', {x: cfg.L - 12, y: Y + 13}, yl);
    t.textContent = v.toFixed(cfg.ydec);
  });

  // x title
  const xt = mk('text', {x: (cfg.L + cfg.R) / 2, y: cfg.B + 88, 'font-family': FONT, 'font-size': 37, 'text-anchor': 'middle', fill: '#111'}, g);
  xt.textContent = 'x /m';
  
  

  // y title
  const yt = mk('text', {x: cfg.yt.x, y: cfg.yt.cy, 'font-family': SERIF, 'font-size': 64, 'text-anchor': 'middle', fill: '#111',
    transform: `rotate(-90 ${cfg.yt.x} ${cfg.yt.cy})`, textLength: cfg.yt.len, lengthAdjust: 'spacingAndGlyphs'}, g);
  
  
  yt.appendChild(document.createTextNode(cfg.yt.text));
  if (cfg.yt.sup) {
    const sp = mk('tspan', {'font-size': 40, dy: -24}, yt);
    sp.textContent = cfg.yt.sup;
    const cl = mk('tspan', {dy: 24}, yt);
    cl.textContent = ')';
  }

  // legend
  const lg = mk('g', {}, g);
  
  
  const LW = 208, LH = 489, lx = cfg.leg.x, ly = cfg.leg.y;
  mk('rect', {x: lx - 5, y: ly + 8, width: LW, height: LH, fill: '#bdbdbd'}, lg);
  mk('rect', {x: lx, y: ly, width: LW, height: LH, fill: '#fff', stroke: '#333', 'stroke-width': 3}, lg);
  seriesLabels.forEach((lab, i) => {
    const ry = ly + 29 + i * 47.5;
    const e = mk('g', {}, lg);
    
    
    mk('line', {x1: lx + 17, y1: ry, x2: lx + 70, y2: ry, stroke: seriesColors[i], 'stroke-width': 3.5}, e);
    drawMarker(e, markerTypes[i], seriesColors[i], lx + 43, ry);
    const t = mk('text', {x: lx + 80, y: ry + 14, 'font-family': FONT, 'font-size': 39, fill: '#111'}, e);
    t.textContent = lab;
  });

  // caption
  const cap = mk('text', {x: cfg.cap.x, y: cfg.cap.y, 'font-family': SERIF, 'font-size': 60, 'text-anchor': 'middle', fill: '#111'}, g);
  
  
  cap.appendChild(document.createTextNode('('));
  const bt = mk('tspan', {'font-weight': 'bold'}, cap);
  bt.textContent = cfg.id;
  cap.appendChild(document.createTextNode(')'));
}

function oxSeries(Ys) {
  return oxX.map((xs, i) => ({lines: [[xs, Ys[i]]], mx: oxMk[i].map(k => xs[k]), my: oxMk[i].map(k => Ys[i][k])}));
}
function potSeries(Ys) {
  return potX.map((xs, i) => ({lines: [[xs, Ys[i]]], mx: xs.slice(1, -1), my: Ys[i].slice(1, -1)}));
}
function curSeries(Xu, Yu, Xl, Yl, MX, MY) {
  return Xu.map((xs, i) => ({lines: [[xs, Yu[i]], [Xl[i], Yl[i]]], mx: MX[i], my: MY[i]}));
}

makePanel({id: 'a', L: 293, R: 1644, T: 34, B: 1079, x0: 306, kx: 2650, v0: 0.220, p0: 44, ky: 34893,
  xticks: oxXticks, xdec: 3, yticks: oxA_Yticks, ydec: 3, series: oxSeries(oxA_Y),
  yt: {x: 158, cy: 518, len: 746, text: 'oxygen concentration /(mol/m', sup: '3'},
  leg: {x: 1409, y: 311}, cap: {x: 885, y: 1370}});
makePanel({id: 'b', L: 2026, R: 3377, T: 34, B: 1079, x0: 2039, kx: 2650, v0: 0.220, p0: 44, ky: 99600,
  xticks: oxXticks, xdec: 3, yticks: oxB_Yticks, ydec: 3, series: oxSeries(oxB_Y),
  yt: {x: 1893, cy: 497, len: 765, text: 'oxygen concentration /(mol/m', sup: '3'},
  leg: {x: 3142, y: 311}, cap: {x: 2623, y: 1370}});
makePanel({id: 'c', L: 287, R: 1644, T: 1461, B: 2507, x0: 301, kx: 2660, v0: -0.05, p0: 1504, ky: 1356,
  xticks: potXticks, xdec: 2, yticks: potYticks, ydec: 2, series: potSeries(potC_Y),
  yt: {x: 162, cy: 1927, len: 570, text: 'corrosion potential /V'},
  leg: {x: 1409, y: 1742}, cap: {x: 885, y: 2806}});
makePanel({id: 'd', L: 2020, R: 3377, T: 1461, B: 2507, x0: 2034, kx: 2660, v0: -0.05, p0: 1504, ky: 1356,
  xticks: potXticks, xdec: 2, yticks: potYticks, ydec: 2, series: potSeries(potD_Y),
  yt: {x: 1846, cy: 1927, len: 570, text: 'corrosion potential /V'},
  leg: {x: 3142, y: 1742}, cap: {x: 2623, y: 2806}});
makePanel({id: 'e', L: 293, R: 1644, T: 2889, B: 3935, x0: 307, kx: 2640, v0: 0, p0: 3761, ky: 2432,
  xticks: potXticks, xdec: 2, yticks: curE_Yticks, ydec: 2,
  series: curSeries(curE_Xu, curE_Yu, curE_Xl, curE_Yl, curE_MkX, curE_MkY),
  yt: {x: 168, cy: 3430, len: 790, text: 'corrosion current density/(A/m', sup: '2'},
  leg: {x: 1409, y: 2933}, cap: {x: 885, y: 4240}});
makePanel({id: 'f', L: 2027, R: 3377, T: 2889, B: 3935, x0: 2040, kx: 2640, v0: 0, p0: 3730, ky: 1862,
  xticks: potXticks, xdec: 2, yticks: curF_Yticks, ydec: 2,
  series: curSeries(curF_Xu, curF_Yu, curF_Xl, curF_Yl, curF_MkX, curF_MkY),
  yt: {x: 1910, cy: 3497, len: 760, text: 'corrosion current density/(A/m', sup: '2'},
  leg: {x: 3142, y: 2933}, cap: {x: 2623, y: 4240}});
</script>
</body></html>
